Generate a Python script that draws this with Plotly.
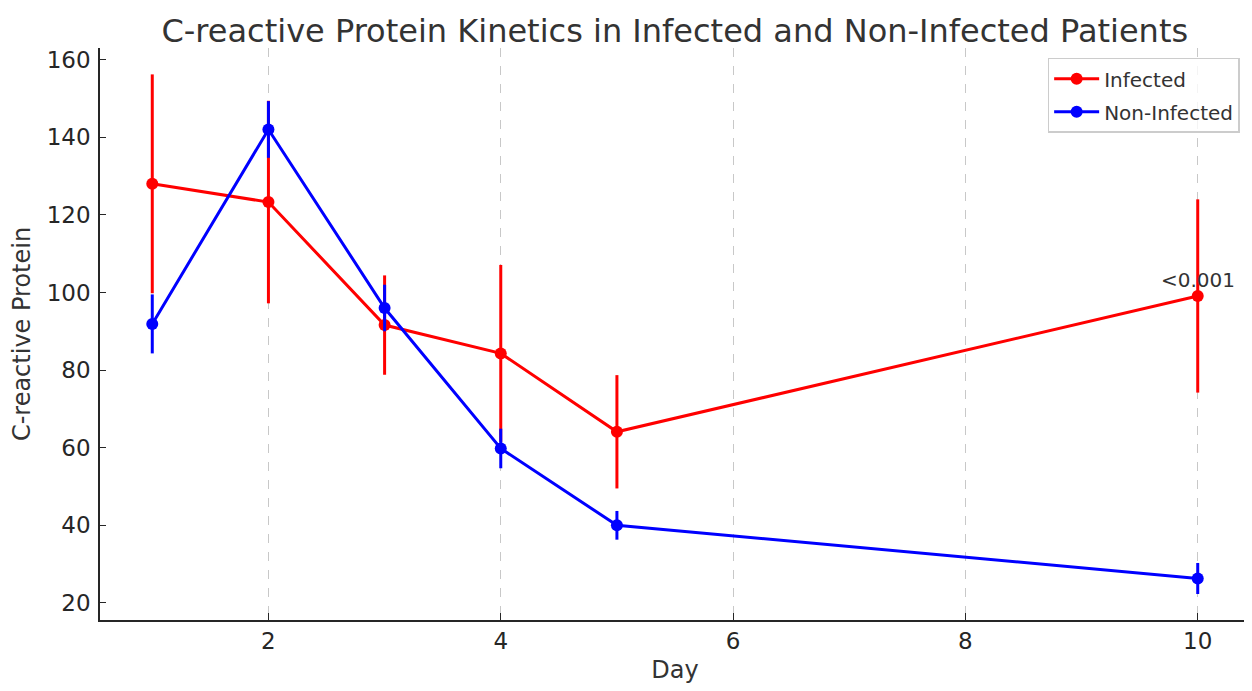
import plotly.graph_objects as go

days = [1, 2, 3, 4, 5, 10]
infected_mean = [128.0, 123.3, 91.6, 84.3, 64.1, 99.1]
infected_err = [28.2, 26.1, 12.8, 22.8, 14.6, 24.9]
noninf_mean = [91.9, 142.0, 96.0, 59.8, 40.0, 26.3]
noninf_err = [7.6, 7.3, 6.0, 5.1, 3.7, 4.0]
x_ticks = [2, 4, 6, 8, 10]
y_ticks = [20, 40, 60, 80, 100, 120, 140, 160]
p_label = "<0.001"

FONT = "DejaVu Sans"
TXT = "#262626"

fig = go.Figure()
fig.add_trace(go.Scatter(
    x=days, y=infected_mean, name="Infected", mode="lines+markers",
    legendgroup="a",
    line=dict(color="red", width=3), marker=dict(color="red", size=12),
    error_y=dict(type="data", array=infected_err, visible=True,
                 color="red", thickness=3, width=0),
))
fig.add_trace(go.Scatter(
    x=days, y=noninf_mean, name="Non-Infected", mode="lines+markers",
    legendgroup="b",
    line=dict(color="blue", width=3), marker=dict(color="blue", size=12),
    error_y=dict(type="data", array=noninf_err, visible=True,
                 color="blue", thickness=3, width=0),
))

fig.add_annotation(x=days[-1], y=infected_mean[-1], text=p_label,
                   showarrow=False, yanchor="bottom", xanchor="center",
                   yshift=2, font=dict(family=FONT, size=20, color="#333333"))

# the page body adds an 8px offset; figure is sized to compensate
fig.update_layout(
    width=1244, height=683,
    paper_bgcolor="white", plot_bgcolor="white",
    margin=dict(l=92, r=2, t=40, b=71),
    font=dict(family=FONT, color=TXT),
    title=dict(text="C-reactive Protein Kinetics in Infected and Non-Infected Patients",
               x=0.536, xanchor="center", y=0.966, yanchor="middle",
               font=dict(family=FONT, size=32, color="#333333")),
    showlegend=True,
    legend=dict(x=0.991, y=0.983, xanchor="right", yanchor="top",
                bgcolor="rgba(255,255,255,0.8)", bordercolor="#cccccc",
                borderwidth=1.5, font=dict(family=FONT, size=20, color="#333333"),
                itemwidth=45, tracegroupgap=4),
)
fig.update_xaxes(
    range=[0.55, 10.45], tickvals=x_ticks,
    title=dict(text="Day", font=dict(size=24, color="#333333"), standoff=8),
    automargin=False,
    showline=True, linecolor="#262626", linewidth=1.5, mirror=False,
    ticks="inside", ticklen=7, tickwidth=1.2, tickcolor="#262626",
    tickfont=dict(size=23), showgrid=True, gridcolor="#c8c8c8", griddash="dash",
    gridwidth=1, zeroline=False, ticklabelstandoff=0,
)
fig.update_yaxes(
    range=[15.6, 163], tickvals=y_ticks,
    title=dict(text="C-reactive Protein", font=dict(size=24, color="#333333"), standoff=10),
    automargin=False,
    showline=True, linecolor="#262626", linewidth=1.5, mirror=False,
    ticks="inside", ticklen=6, tickwidth=1.2, tickcolor="#262626",
    tickfont=dict(size=23), showgrid=False, zeroline=False, ticklabelstandoff=3,
)

fig.write_html("out.html")
